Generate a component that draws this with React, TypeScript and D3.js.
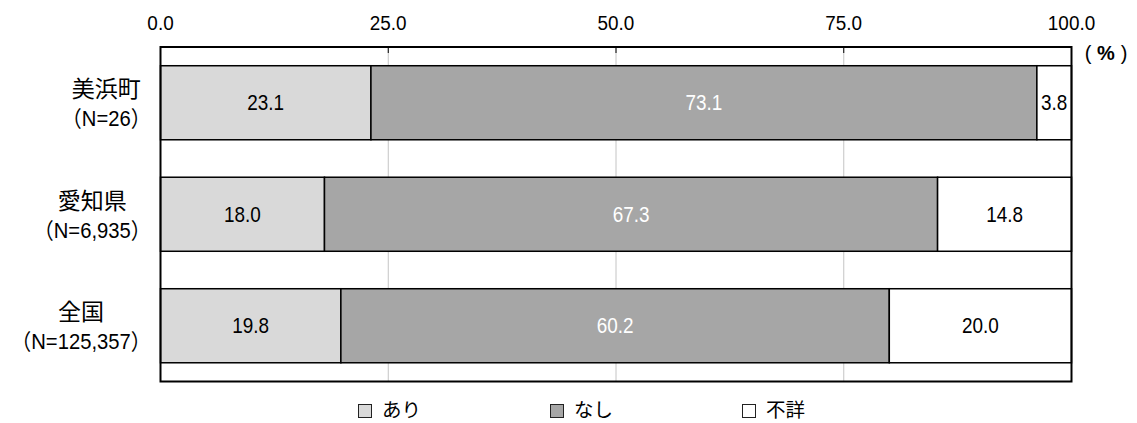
import React, { useEffect, useRef } from "react";
import * as d3 from "d3";

// Survey results by region (%)
const regions = ["美浜町", "愛知県", "全国"];
const sampleSizes = ["（N=26）", "（N=6,935）", "（N=125,357）"];
const seriesNames = ["あり", "なし", "不詳"];
const ariValues = [23.1, 18.0, 19.8];
const nashiValues = [73.1, 67.3, 60.2];
const fushoValues = [3.8, 14.8, 20.0];
const tickValues = [0, 25, 50, 75, 100];

const W = 1137;
const H = 423;
const FONT = "'Liberation Sans', 'Noto Sans CJK JP', sans-serif";
const CJK = "'Noto Sans CJK JP', sans-serif";
const fills = ["#d9d9d9", "#a6a6a6", "#ffffff"];
const labelColors = ["#000000", "#ffffff", "#000000"];

type Sel = d3.Selection<SVGGElement, unknown, null, undefined>;

// Horizontally condensed text, anchored at (x, y)
function narrowText(
  g: Sel,
  x: number,
  y: number,
  str: string,
  size: number,
  sx: number,
  anchor: string,
  fill = "#000"
) {
  return g
    .append("text")
    .attr("transform", `translate(${x},${y}) scale(${sx},1)`)
    .attr("dy", "0.35em")
    .attr("text-anchor", anchor)
    .attr("font-family", FONT)
    .attr("font-size", size)
    .attr("fill", fill)
    .text(str);
}

export default function App() {
  const ref = useRef<SVGSVGElement>(null);

  useEffect(() => {
    const svg = d3.select(ref.current);
    svg.selectAll("*").remove();
    const root = svg.append("g") as unknown as Sel;

    const left = 160.5;
    const right = 1071.5;
    const top = 47;
    const bottom = 381.5;

    const x = d3.scaleLinear().domain([0, 100]).range([left, right]);
    const y = d3
      .scaleBand<string>()
      .domain(regions)
      .range([top, bottom])
      .paddingInner(0.336)
      .paddingOuter(0.168);

    // gridlines
    root
      .append("g")
      .selectAll("line")
      .data(tickValues.slice(1, -1))
      .join("line")
      .attr("x1", (d) => x(d))
      .attr("x2", (d) => x(d))
      .attr("y1", top)
      .attr("y2", bottom)
      .attr("stroke", "#c4c4c4")
      .attr("stroke-width", 1);

    // inner tick marks along the top edge
    root
      .append("g")
      .selectAll("line")
      .data(tickValues.slice(1, -1))
      .join("line")
      .attr("x1", (d) => x(d))
      .attr("x2", (d) => x(d))
      .attr("y1", top)
      .attr("y2", top + 6)
      .attr("stroke", "#000")
      .attr("stroke-width", 1);

    // tick labels
    const tickG = root.append("g") as Sel;
    tickValues.forEach((t) => {
      narrowText(tickG, x(t), 22.5, d3.format(".1f")(t), 21, 0.9, "middle");
    });

    // unit label: ( % )
    const unitG = root.append("g") as Sel;
    const unitParts = [
      { s: "(", dx: -18, bold: false },
      { s: "%", dx: 0, bold: true },
      { s: ")", dx: 18, bold: false },
    ];
    unitParts.forEach((p) => {
      unitG
        .append("text")
        .attr("x", 1106 + p.dx)
        .attr("y", 53.5)
        .attr("dy", "0.33em")
        .attr("text-anchor", "middle")
        .attr("font-family", FONT)
        .attr("font-weight", p.bold ? "bold" : "normal")
        .attr("font-size", 20)
        .text(p.s);
    });

    // stacked bars
    const rows = regions.map((r, i) => {
      const vals = [ariValues[i], nashiValues[i], fushoValues[i]];
      let acc = 0;
      return vals.map((v, k) => {
        const seg = { region: r, k, v, x0: acc, x1: acc + v };
        acc += v;
        return seg;
      });
    });

    const barG = root.append("g") as Sel;
    rows.forEach((segs) => {
      segs.forEach((s) => {
        const x0 = x(s.x0);
        const x1 = Math.min(x(s.x1), right);
        barG
          .append("rect")
          .attr("x", x0)
          .attr("y", y(s.region)!)
          .attr("width", x1 - x0)
          .attr("height", y.bandwidth())
          .attr("fill", fills[s.k])
          .attr("stroke", "#000")
          .attr("stroke-width", 1.5);
      });
    });
    rows.forEach((segs) => {
      segs.forEach((s) => {
        const x0 = x(s.x0);
        const x1 = Math.min(x(s.x1), right);
        narrowText(
          barG,
          (x0 + x1) / 2,
          y(s.region)! + y.bandwidth() / 2,
          d3.format(".1f")(s.v),
          22,
          0.86,
          "middle",
          labelColors[s.k]
        );
      });
    });

    // plot frame
    root
      .append("rect")
      .attr("x", left)
      .attr("y", top)
      .attr("width", right - left)
      .attr("height", bottom - top)
      .attr("fill", "none")
      .attr("stroke", "#000")
      .attr("stroke-width", 2);

    // category labels: two lines centred on each other, block right-aligned
    const catG = root.append("g") as Sel;
    regions.forEach((r, i) => {
      const cy = y(r)! + y.bandwidth() / 2;
      const line2 = narrowText(catG, 151, cy + 16, sampleSizes[i], 22, 0.92, "end");
      const w = (line2.node() as SVGTextElement).getComputedTextLength() * 0.92;
      catG
        .append("text")
        .attr("x", 151 - w / 2)
        .attr("y", cy - 14)
        .attr("dy", "0.38em")
        .attr("text-anchor", "middle")
        .attr("font-family", CJK)
        .attr("font-size", 23)
        .text(r);
    });

    // legend
    const legendX = d3
      .scalePoint<string>()
      .domain(seriesNames)
      .range([358, 742]);
    const lg = root
      .append("g")
      .selectAll("g")
      .data(seriesNames)
      .join("g")
      .attr("transform", (d) => `translate(${legendX(d)},0)`);
    lg.append("rect")
      .attr("x", 0.5)
      .attr("y", 404.5)
      .attr("width", 13)
      .attr("height", 13)
      .attr("fill", (_, i) => fills[i])
      .attr("stroke", "#222")
      .attr("stroke-width", 1);
    lg.append("text")
      .attr("x", 24)
      .attr("y", 409.5)
      .attr("dy", "0.38em")
      .attr("font-family", CJK)
      .attr("font-size", 19.5)
      .text((d) => d);
  }, []);

  return (
    <div style={{ position: "absolute", left: 0, top: 0 }}>
      <svg ref={ref} width={W} height={H} style={{ display: "block", background: "#fff" }} />
    </div>
  );
}
